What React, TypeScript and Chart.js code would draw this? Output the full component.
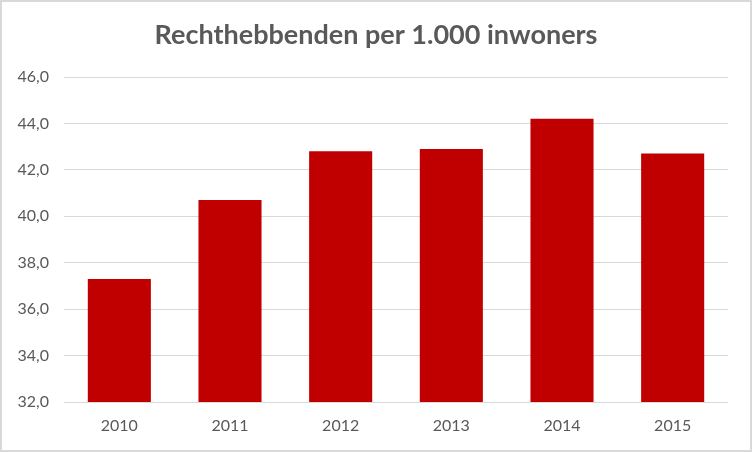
import React, { useEffect, useRef } from "react";
import { Chart, registerables } from "chart.js";

Chart.register(...registerables);

const categories = ["2010", "2011", "2012", "2013", "2014", "2015"];
const values = [37.3, 40.7, 42.8, 42.9, 44.2, 42.7];
const titleText = "Rechthebbenden per 1.000 inwoners";
const yMin = 32;
const yMax = 46;
const yStep = 2;

const borderPlugin = {
  id: "frameBorder",
  afterDraw(chart: any) {
    const ctx = chart.ctx;
    ctx.save();
    ctx.strokeStyle = "#d9d9d9";
    ctx.lineWidth = 2;
    ctx.strokeRect(1, 1, chart.width - 2, chart.height - 2);
    ctx.restore();
  },
};

export default function App() {
  const ref = useRef<HTMLCanvasElement | null>(null);
  useEffect(() => {
    document.body.style.margin = "0";
    const chart = new Chart(ref.current as HTMLCanvasElement, {
      type: "bar",
      data: {
        labels: categories,
        datasets: [
          {
            data: values,
            backgroundColor: "#C00000",
            borderWidth: 0,
            categoryPercentage: 1,
            barPercentage: 0.57,
          },
        ],
      },
      options: {
        animation: false,
        responsive: false,
        maintainAspectRatio: false,
        layout: { padding: { left: 12, right: 12, top: 0, bottom: 0 } },
        plugins: {
          legend: { display: false },
          tooltip: { enabled: false },
          title: {
            display: true,
            text: titleText,
            color: "#595959",
            font: { family: "Lato", size: 27, weight: "bold", lineHeight: 1.2 },
            padding: { top: 19, bottom: 25.6 },
          },
        },
        scales: {
          x: {
            grid: { display: false, drawTicks: false },
            border: { display: false },
            ticks: {
              color: "#595959",
              font: { family: "Lato", size: 16 },
              padding: 14,
            },
            afterFit(scale: any) {
              scale.height = 50;
            },
          },
          y: {
            min: yMin,
            max: yMax,
            grid: { color: "#d9d9d9", drawTicks: false, lineWidth: 1 },
            border: { display: false },
            ticks: {
              stepSize: yStep,
              color: "#595959",
              font: { family: "Lato", size: 16 },
              padding: 15,
              callback: (v: any) => Number(v).toFixed(1).replace(".", ","),
            },
            afterFit(scale: any) {
              scale.width = 52;
            },
          },
          yRight: {
            position: "right",
            min: yMin,
            max: yMax,
            grid: { display: false, drawTicks: false },
            border: { display: false },
            ticks: { display: false },
            afterFit(scale: any) {
              scale.width = 12;
            },
          },
        },
      },
      plugins: [borderPlugin],
    });
    return () => chart.destroy();
  }, []);
  return (
    <div style={{ position: "absolute", left: 0, top: 0, width: 752, height: 452 }}>
      <canvas ref={ref} width={752} height={452} />
    </div>
  );
}
